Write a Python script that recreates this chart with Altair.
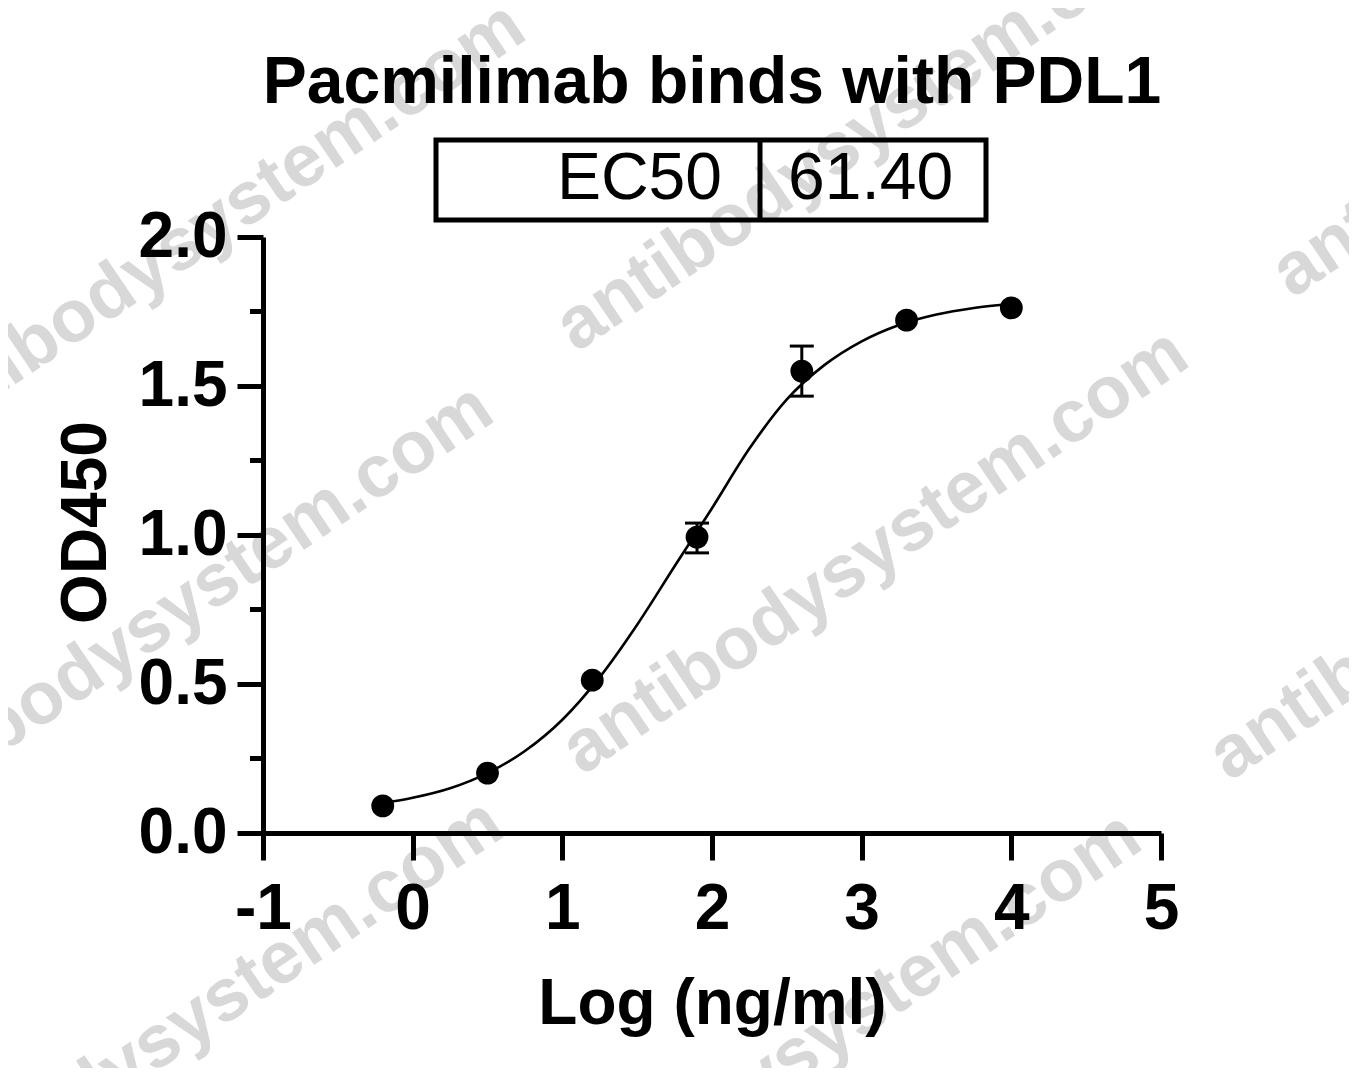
import altair as alt
import pandas as pd

# ---------------- data ----------------
log_conc = [-0.2, 0.5, 1.2, 1.9, 2.6, 3.3, 4.0]
od450 = [0.091, 0.201, 0.513, 0.993, 1.550, 1.721, 1.762]

err_x = [1.9, 2.6]
err_lo = [0.940, 1.466]
err_hi = [1.040, 1.634]

curve_x = [-0.2, 0.0, 0.25, 0.5, 0.75, 1.0, 1.25, 1.5, 1.75, 2.0, 2.25, 2.5,
           2.75, 3.0, 3.25, 3.5, 3.75, 4.0]
curve_y = [0.100, 0.118, 0.150, 0.201, 0.275, 0.380, 0.523, 0.699, 0.895, 1.090,
           1.290, 1.455, 1.570, 1.650, 1.705, 1.740, 1.762, 1.776]

x_ticks = [-1, 0, 1, 2, 3, 4, 5]
y_ticks = [0.0, 0.5, 1.0, 1.5, 2.0]
y_minor = [0.25, 0.75, 1.25, 1.75]

title_text = "Pacmilimab binds with PDL1"
table_label = "EC50"
table_value = "61.40"
x_title = "Log (ng/ml)"
y_title = "OD450"
watermark = "antibodysystem.com"

# ---------------- layout / style (pixels relative to plot origin) ----------------
FONT = "Liberation Sans"
W, H = 898, 596
wm_pos = [(-51, -12), (606, -108), (612, 315), (-83, 370),
          (-73, 785), (565, 798), (1322, -162), (1259, 321)]

df_pts = pd.DataFrame({"x": log_conc, "y": od450})
df_curve = pd.DataFrame({"x": curve_x, "y": curve_y})
df_err = pd.DataFrame({"x": err_x, "lo": err_lo, "hi": err_hi})
df_caps = pd.DataFrame({"x": err_x + err_x, "y": err_lo + err_hi})
df_minor = pd.DataFrame({"y": y_minor})

x_scale = alt.Scale(domain=[-1, 5], nice=False, zero=False)
y_scale = alt.Scale(domain=[0, 2], nice=False, zero=False)

x_axis = alt.Axis(
    values=x_ticks, title=x_title, labelExpr="'' + datum.value",
    labelFont=FONT, labelFontSize=64, labelFontWeight="bold", labelColor="black",
    labelPadding=17, labelAngle=0, labelFlush=False, labelOverlap=False,
    tickSize=27, tickWidth=5, tickColor="black",
    domainWidth=5, domainColor="black", grid=False, zindex=1,
    titleFont=FONT, titleFontSize=64, titleFontWeight="bold", titleColor="black",
    titleX=449, titleY=190, titleAlign="center", titleBaseline="alphabetic",
)
y_axis = alt.Axis(
    values=y_ticks, title=y_title, labelExpr="format(datum.value, '.1f')",
    labelFont=FONT, labelFontSize=64, labelFontWeight="bold", labelColor="black",
    labelPadding=10, labelFlush=False, labelOverlap=False,
    tickSize=26, tickWidth=5, tickColor="black",
    domainWidth=5, domainColor="black", grid=False, zindex=1,
    titleFont=FONT, titleFontSize=64, titleFontWeight="bold", titleColor="black",
    titleAngle=270, titleX=-158, titleY=285, titleAlign="center",
    titleBaseline="alphabetic",
)

X = alt.X("x:Q", scale=x_scale, axis=x_axis)
Y = alt.Y("y:Q", scale=y_scale, axis=y_axis)

layers = []

# watermarks
for (px, py) in wm_pos:
    layers.append(
        alt.Chart(pd.DataFrame({"t": [watermark]})).mark_text(
            font=FONT, fontSize=74, fontWeight="bold", color="#d8d8d8",
            angle=326, align="center", baseline="middle",
        ).encode(x=alt.value(px), y=alt.value(py), text="t:N")
    )

# minor y ticks
layers.append(
    alt.Chart(df_minor).mark_rule(color="black", strokeWidth=5).encode(
        y=alt.Y("y:Q", scale=y_scale, axis=y_axis),
        x=alt.value(-13), x2=alt.value(0),
    )
)

# fitted curve
layers.append(
    alt.Chart(df_curve).mark_line(color="black", strokeWidth=2.6,
                                  interpolate="monotone").encode(x=X, y=Y)
)

# error bars
layers.append(
    alt.Chart(df_err).mark_rule(color="black", strokeWidth=3).encode(
        x=X, y=alt.Y("lo:Q", scale=y_scale, axis=y_axis), y2="hi:Q"
    )
)
layers.append(
    alt.Chart(df_caps).mark_tick(color="black", orient="horizontal", size=24,
                                 thickness=3, opacity=1).encode(x=X, y=Y)
)

# points
layers.append(
    alt.Chart(df_pts).mark_circle(size=520, color="black", opacity=1).encode(x=X, y=Y)
)

# title
layers.append(
    alt.Chart(pd.DataFrame({"t": [title_text]})).mark_text(
        font=FONT, fontSize=66, fontWeight="bold", color="black",
        align="center", baseline="alphabetic",
    ).encode(x=alt.value(449), y=alt.value(-134), text="t:N")
)

# EC50 table box
one = pd.DataFrame({"k": [0]})
layers.append(
    alt.Chart(one).mark_rect(fillOpacity=0, stroke="black", strokeWidth=5).encode(
        x=alt.value(173), x2=alt.value(723), y=alt.value(-97), y2=alt.value(-17)
    )
)
layers.append(
    alt.Chart(one).mark_rule(color="black", strokeWidth=5).encode(
        x=alt.value(497), y=alt.value(-97), y2=alt.value(-17)
    )
)
layers.append(
    alt.Chart(pd.DataFrame({"t": [table_label]})).mark_text(
        font=FONT, fontSize=66, color="black", align="right", baseline="alphabetic"
    ).encode(x=alt.value(459), y=alt.value(-38), text="t:N")
)
layers.append(
    alt.Chart(pd.DataFrame({"t": [table_value]})).mark_text(
        font=FONT, fontSize=66, color="black", align="left", baseline="alphabetic"
    ).encode(x=alt.value(525), y=alt.value(-38), text="t:N")
)

chart = alt.layer(*layers).properties(
    width=W, height=H,
    padding={"left": 255, "top": 229, "right": 188, "bottom": 235},
    autosize=alt.AutoSizeParams(type="none"),
    background="white",
).configure_view(stroke=None)

chart.save("out.html", embed_options={"renderer": "svg", "actions": False})
